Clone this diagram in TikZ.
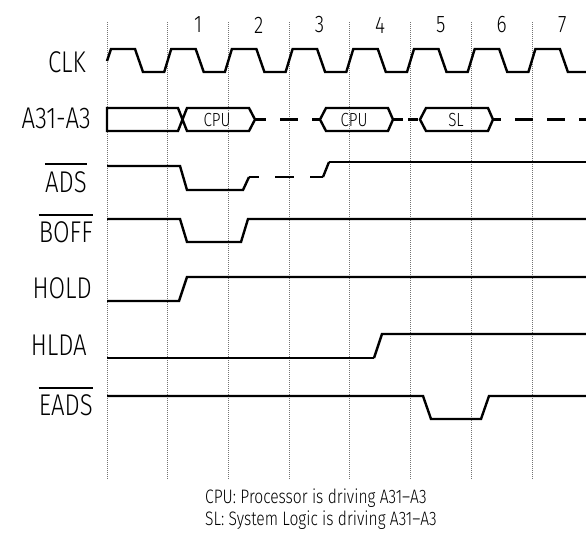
\documentclass[tikz,border=0pt]{standalone}
\usepackage{fontspec}
\setmainfont{Fira Sans}[UprightFont=* Light,FakeStretch=0.8]
\usepackage{tikz}

\begin{document}
\begin{tikzpicture}[x=1pt,y=-1pt,
    wave/.style={line width=2.4pt},
    thinwave/.style={line width=1.7pt},
    float/.style={wave,dash pattern=on 18pt off 14pt},
    tick/.style={black!55,line width=0.8pt,dash pattern=on 1pt off 1pt},
    sig/.style={font=\fontsize{30}{30}\selectfont,inner sep=0pt,anchor=east},
    cyc/.style={font=\fontsize{24}{24}\selectfont,inner sep=0pt},
    busval/.style={font=\fontsize{19}{19}\selectfont,inner sep=0pt},
    note/.style={font=\fontsize{19.5}{19.5}\selectfont,inner sep=0pt,anchor=base west},
    bar/.style={line width=1.8pt}]
    \useasboundingbox (0,0) rectangle (586,547);

    \foreach \k in {0,...,7}
        \draw[tick] ({107+60.7*\k},22) -- ({107+60.7*\k},480);
    \foreach \n in {1,...,7}
        \node[cyc] (t\n) at ({137.35+60.7*\n},25) {\n};

    \node[sig] (clk) at (86,62) {CLK};
    \node[sig] (addr) at (91,118) {A31-A3};
    \node[sig] (ads) at (87,182) {ADS};
    \node[sig] (boff) at (93,232.5) {BOFF};
    \node[sig] (hold) at (92,288) {HOLD};
    \node[sig] (hlda) at (87,345) {HLDA};
    \node[sig] (eads) at (93,405.5) {EADS};
    \foreach \s in {ads,boff,eads}
        \draw[bar] ([yshift=7pt]\s.north west) -- ([yshift=7pt]\s.north east);

    % CLK
    \draw[wave] (107,61) -- (111,49)
        \foreach \k in {0,...,6} {
            -- ({107+60.7*\k+28},49) -- ({107+60.7*\k+36},72)
            -- ({107+60.7*\k+57.2},72) -- ({107+60.7*\k+64.2},49) }
        -- (559.9,49) -- (567.9,72) -- (586,72);

    % A31-A3
    \draw[wave] (187,131) -- (178,108) -- (107,108) -- (107,131) -- (178,131)
        -- (187,108) -- (249,108) -- (255,119.5) -- (249,131) -- cycle;
    \draw[float,dash phase=7pt] (255,119.5) -- (320,119.5);
    \draw[wave] (320,119.5) -- (326,108) -- (388,108) -- (393,119.5)
        -- (388,131) -- (326,131) -- cycle;
    \draw[wave,dash pattern=on 10pt off 5pt] (393,119.5) -- (420,119.5);
    \draw[wave] (420,119.5) -- (426,108) -- (488,108) -- (493,119.5)
        -- (488,131) -- (426,131) -- cycle;
    \draw[float,dash phase=10pt] (493,119.5) -- (586,119.5);
    \node[busval] (cpu1) at (217,120) {CPU};
    \node[busval] (cpu2) at (354,120) {CPU};
    \node[busval] (sl) at (456,120) {SL};

    % ADS
    \draw[wave] (107,166) -- (180,166) -- (187,190) -- (243,190) -- (249,177);
    \draw[wave,dash pattern=on 19pt off 16pt,dash phase=9pt] (249,177) -- (323,177);
    \draw[wave] (323,177) -- (329,162);
    \draw[thinwave] (329,162) -- (586,162);

    % BOFF, HOLD, HLDA, EADS
    \draw[wave] (107,219) -- (180,219) -- (187,242) -- (241,242) -- (248,219) -- (586,219);
    \draw[wave] (107,301) -- (179,301) -- (187,277) -- (586,277);
    \draw[thinwave] (107,358) -- (374,358);
    \draw[wave] (374,358) -- (382,334) -- (586,334);
    \draw[wave] (107,396) -- (423,396) -- (431,419) -- (481,419) -- (489,396) -- (586,396);

    \node[note] (cpukey) at (205,503) {CPU: Processor is driving A31–A3};
    \node[note] (slkey) at (205,525) {SL: System Logic is driving A31–A3};
\end{tikzpicture}
\end{document}
